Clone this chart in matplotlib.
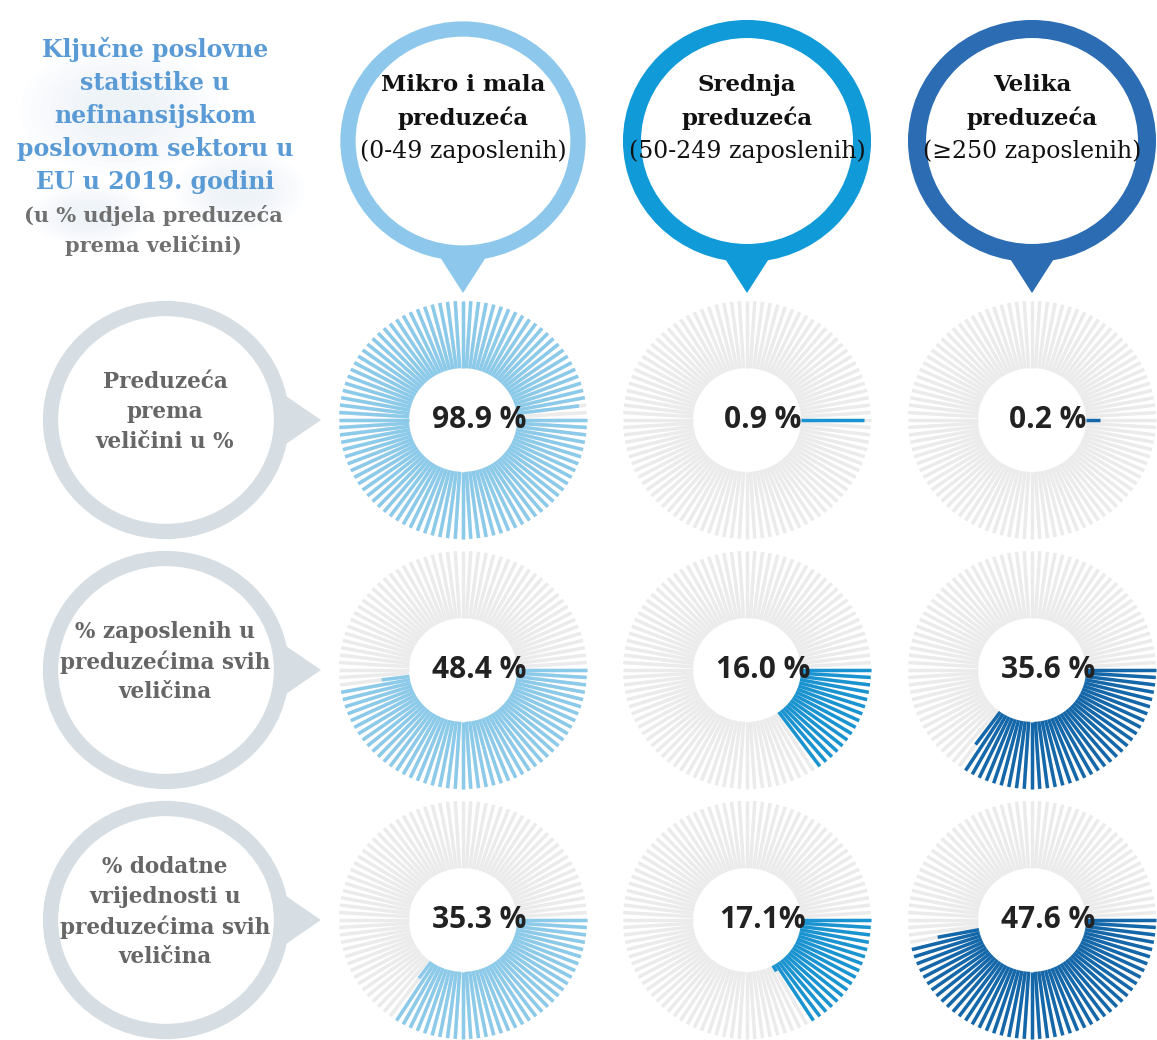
import matplotlib.pyplot as plt
import numpy as np
from matplotlib.patches import Ellipse, Polygon

plt.rcParams['font.family'] = ['DejaVu Serif']

# 数据
sizes = ['Mikro i mala\npreduzeća', 'Srednja\npreduzeća', 'Velika\npreduzeća']
size_ranges = ['(0-49 zaposlenih)', '(50-249 zaposlenih)', '(≥250 zaposlenih)']
metrics = ['Preduzeća\nprema\nveličini u %',
           '% zaposlenih u\npreduzećima svih\nveličina',
           '% dodatne\nvrijednosti u\npreduzećima svih\nveličina']
share_enterprises = [98.9, 0.9, 0.2]
share_employment = [48.4, 16.0, 35.6]
share_value_added = [35.3, 17.1, 47.6]
value_labels = [['98.9 %', '0.9 %', '0.2 %'],
                ['48.4 %', '16.0 %', '35.6 %'],
                ['35.3 %', '17.1%', '47.6 %']]
title_lines = ['Ključne poslovne', 'statistike u', 'nefinansijskom',
               'poslovnom sektoru u', 'EU u 2019. godini']
subtitle_lines = ['(u % udjela preduzeća', 'prema veličini)']

# 样式
W, H = 1157, 1040
col_x = [463, 747, 1032]
row_y = [420, 670, 920]
ring_colors = ['#8dc8ec', '#119ad8', '#2b6cb3']
bar_colors = ['#8ccaea', '#1a94d0', '#1467a9']
grey_bar = '#ebebeb'
label_ring = '#d6dee3'
n_bars = 100
r_in, r_out = 54, 124


def draw_radial(fig, cx, cy, value, color, label):
    rx, ry = 126, 121
    ax = fig.add_axes([(cx - rx) / W, 1 - (cy + ry) / H, 2 * rx / W, 2 * ry / H],
                      projection='polar')
    ax.set_aspect('auto')
    ax.set_theta_zero_location('E')
    ax.set_theta_direction(-1)
    ax.set_ylim(0, 126)
    ax.axis('off')
    theta = np.deg2rad(np.arange(n_bars) * 360 / n_bars)
    ax.vlines(theta, r_in, r_out, colors=grey_bar, lw=2.5)
    full = int(round(value * 10)) // 10
    frac = value - full
    if full > 0:
        ax.vlines(theta[:full], r_in, r_out, colors=color, lw=2.5)
    if frac > 0.01:
        ax.vlines(theta[full], r_in, r_in + frac * (r_out - r_in), colors=color, lw=2.5)
    ax.text(0.5 + 16 / (2 * rx), 0.5, label, transform=ax.transAxes, ha='center',
            va='center', fontsize=21.5, fontweight='bold', color='#222222',
            family=['Open Sans', 'DejaVu Sans'])


fig = plt.figure(figsize=(W / 100, H / 100), dpi=100)
bg = fig.add_axes([0, 0, 1, 1])
bg.set_xlim(0, W)
bg.set_ylim(H, 0)
bg.axis('off')

# 标题背后的淡蓝色光晕（多层叠加模拟模糊）
for (x, y, w, h) in [(120, 110, 200, 130), (240, 190, 130, 80), (90, 215, 120, 60)]:
    for s in np.linspace(1.0, 0.3, 8):
        bg.add_patch(Ellipse((x, y), w * s, h * s, fc='#d2e4f3', ec='none', alpha=0.05))

# 标题
for i, line in enumerate(title_lines):
    bg.text(155, 50 + i * 33, line, ha='center', va='center', fontsize=17,
            fontweight='bold', color='#5b9bd5')
for i, line in enumerate(subtitle_lines):
    bg.text(153, 215 + i * 31, line, ha='center', va='center', fontsize=15,
            fontweight='bold', color='#707070')

# 顶部气泡
ring_width = [11, 13, 13]
for j, cx in enumerate(col_x):
    bg.add_patch(Ellipse((cx, 141), 2 * 124 - 18, 2 * 121 - 18, fill=False,
                         ec=ring_colors[j], lw=ring_width[j]))
    bg.add_patch(Polygon([[cx - 25, 254], [cx + 25, 254], [cx, 293]],
                         closed=True, fc=ring_colors[j], ec='none'))
    name = sizes[j].split('\n')
    bg.text(cx, 85, name[0], ha='center', va='center', fontsize=16.5,
            fontweight='bold', color='#111111')
    bg.text(cx, 118, name[1], ha='center', va='center', fontsize=16.5,
            fontweight='bold', color='#111111')
    bg.text(cx, 151, size_ranges[j], ha='center', va='center', fontsize=17,
            color='#111111')

# 左侧指标气泡
for i, cy in enumerate(row_y):
    bg.add_patch(Ellipse((166, cy), 2 * 123 - 15, 2 * 119 - 15, fill=False,
                         ec=label_ring, lw=11))
    bg.add_patch(Polygon([[283, cy - 26], [283, cy + 26], [321, cy]],
                         closed=True, fc=label_ring, ec='none'))
    lines = metrics[i].split('\n')
    top = cy - (len(lines) - 1) * 30 / 2 - 8
    for k, line in enumerate(lines):
        bg.text(165, top + k * 30, line, ha='center', va='center', fontsize=15.5,
                fontweight='bold', color='#666666')

# 环形条形图
rows = [share_enterprises, share_employment, share_value_added]
for i, vals in enumerate(rows):
    for j, v in enumerate(vals):
        draw_radial(fig, col_x[j], row_y[i], v, bar_colors[j], value_labels[i][j])

fig.savefig('out.png', dpi=100)
